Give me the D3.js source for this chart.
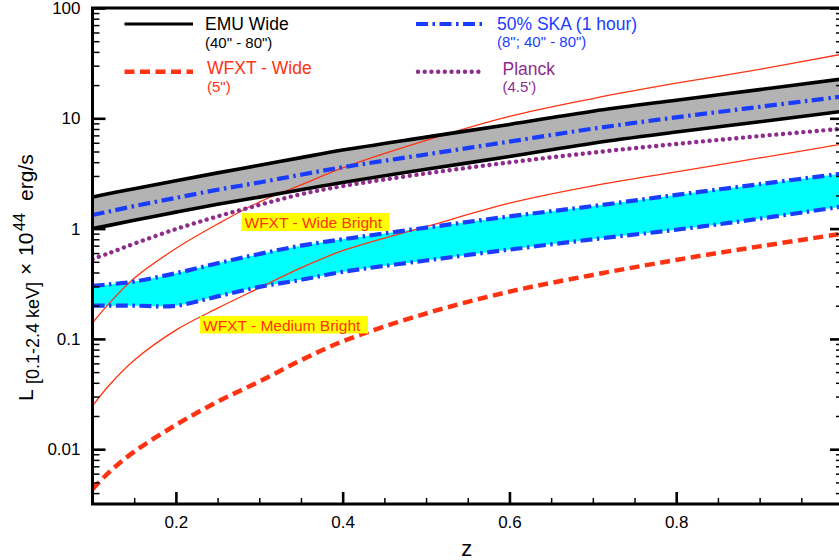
<!DOCTYPE html>
<html><head><meta charset="utf-8">
<script src="https://cdn.jsdelivr.net/npm/d3@7"></script>
<style>
html,body{margin:0;padding:0;background:#fff;}
svg{display:block;font-family:"Liberation Sans",Arial,Helvetica,sans-serif;}
</style></head>
<body>
<svg id="chart" width="839" height="560"></svg>
<script>
// ---------------- data ----------------
const zGrid       = [0.1, 0.12, 0.15, 0.2, 0.25, 0.3, 0.35, 0.4, 0.5, 0.6, 0.7, 0.8, 0.9, 1.0];
const emuUpper    = [1.93, 2.08, 2.3, 2.72, 3.2, 3.75, 4.4, 5.15, 6.75, 8.8, 11.6, 14.6, 18.2, 22.8];
const emuLower    = [1.0, 1.07, 1.19, 1.41, 1.66, 1.93, 2.25, 2.62, 3.45, 4.5, 5.95, 7.5, 9.3, 11.6];
const skaOneHour  = [1.33, 1.43, 1.6, 1.9, 2.25, 2.62, 3.08, 3.6, 4.7, 6.15, 8.05, 10.2, 12.7, 15.8];
const planck      = [0.53, 0.6, 0.73, 0.99, 1.29, 1.64, 2.05, 2.43, 3.16, 3.98, 4.89, 5.85, 6.9, 8.05];
const skaBandUp   = [0.302, 0.312, 0.331, 0.394, 0.485, 0.589, 0.7, 0.8, 1.02, 1.29, 1.6, 2.02, 2.53, 3.16];
const skaBandLow  = [0.2, 0.2, 0.2, 0.2, 0.243, 0.296, 0.343, 0.405, 0.514, 0.645, 0.8, 0.977, 1.23, 1.59];
const wfxtWideBright   = [0.14, 0.21, 0.355, 0.66, 1.1, 1.74, 2.49, 3.55, 6.3, 10.4, 15.1, 20.8, 27.8, 38.3];
const wfxtMediumBright = [0.0247, 0.038, 0.064, 0.12, 0.19, 0.29, 0.44, 0.63, 1.04, 1.70, 2.44, 3.27, 4.37, 5.85];
const wfxtWide    = [0.00434, 0.0062, 0.0095, 0.0166, 0.027, 0.041, 0.064, 0.095, 0.17, 0.268, 0.38, 0.52, 0.69, 0.9];

const xMajorTicks = [0.2, 0.4, 0.6, 0.8, 1.0];
const xTickLabels = ["0.2", "0.4", "0.6", "0.8", ""];
const xMinorTicks = [0.15, 0.25, 0.3, 0.35, 0.45, 0.5, 0.55, 0.65, 0.7, 0.75, 0.85, 0.9, 0.95];
const yMajorTicks = [0.01, 0.1, 1, 10, 100];
const yTickLabels = ["0.01", "0.1", "1", "10", "100"];

const legendItems = [
  {name: "EMU Wide",         sub: "(40\" - 80\")",       key: "emu"},
  {name: "WFXT - Wide",      sub: "(5\")",               key: "wfxt"},
  {name: "50% SKA (1 hour)", sub: "(8\"; 40\" - 80\")",   key: "ska"},
  {name: "Planck",           sub: "(4.5')",              key: "planck"}
];
const annotations = [
  {text: "WFXT - Wide Bright", key: "wb"},
  {text: "WFXT - Medium Bright", key: "mb"}
];

// ---------------- styles ----------------
const RED = "#ff3311", BLUE = "#1a3cff", PURPLE = "#8e2c8e", CYAN = "#00ffff", GRAY = "#b3b3b3";
const styles = {
  emu:    {stroke: "#000", width: 3.6, dash: null, cap: "butt"},
  wfxt:   {stroke: RED, width: 4.5, dash: "10,5.5", cap: "butt"},
  ska:    {stroke: BLUE, width: 4.2, dash: "12,4.5,2.5,4.5", cap: "butt"},
  planck: {stroke: PURPLE, width: 4.4, dash: "0.01,6.7", cap: "round"}
};
const textColor = {emu: "#000", wfxt: RED, ska: BLUE, planck: PURPLE};

// ---------------- layout ----------------
const svg = d3.select("#chart");
const L = 92.5, R = 843, T = 8, B = 504;
const yMin = Math.pow(10, 2 - (B - T) / 110.3);
const x = d3.scaleLinear().domain([0.1, 1.0]).range([L, R]);
const y = d3.scaleLog().domain([yMin, 100]).range([B, T]);
const curve = d3.curveCatmullRom.alpha(0.5);

svg.append("defs").append("clipPath").attr("id", "clip")
  .append("rect").attr("x", L).attr("y", T).attr("width", R - L).attr("height", B - T);

const plot = svg.append("g").attr("clip-path", "url(#clip)");
const pts = arr => zGrid.map((z, i) => [z, arr[i]]);
const line = d3.line().x(d => x(d[0])).y(d => y(d[1])).curve(curve);
const area = (up, lo) => d3.area().x((d, i) => x(zGrid[i])).y0((d, i) => y(lo[i])).y1((d, i) => y(up[i])).curve(curve)(zGrid);

plot.append("path").attr("d", area(emuUpper, emuLower)).attr("fill", GRAY);
plot.append("path").attr("d", area(skaBandUp, skaBandLow)).attr("fill", CYAN);

function drawLine(arr, st) {
  plot.append("path").attr("d", line(pts(arr))).attr("fill", "none")
    .attr("stroke", st.stroke).attr("stroke-width", st.width)
    .attr("stroke-dasharray", st.dash).attr("stroke-linecap", st.cap || "butt");
}
drawLine(wfxtWideBright, {stroke: RED, width: 1.3, dash: null});
drawLine(wfxtMediumBright, {stroke: RED, width: 1.3, dash: null});
drawLine(emuUpper, styles.emu);
drawLine(emuLower, styles.emu);
drawLine(skaOneHour, styles.ska);
drawLine(skaBandUp, styles.ska);
drawLine(skaBandLow, styles.ska);
drawLine(planck, styles.planck);
drawLine(wfxtWide, styles.wfxt);

// ---------------- annotation boxes ----------------
const annPos = {wb: {x: 241.5, y: 213, w: 147.5, h: 18, tx: 244.5, ty: 227.5},
                mb: {x: 200, y: 316, w: 168, h: 17.5, tx: 203, ty: 330.5}};
annotations.forEach(a => {
  const p = annPos[a.key];
  svg.append("rect").attr("x", p.x).attr("y", p.y).attr("width", p.w).attr("height", p.h).attr("fill", "#ffff00");
  svg.append("text").attr("x", p.tx).attr("y", p.ty).attr("fill", RED)
    .attr("font-size", "15.5px").text(a.text);
});

// ---------------- axes ----------------
const axG = svg.append("g");
const styleAxis = (g, w) => { g.select(".domain").remove(); g.selectAll("line").attr("stroke", "#000").attr("stroke-width", w); };

axG.append("g").attr("transform", `translate(${L},0)`)
  .call(d3.axisLeft(y).tickValues(yMajorTicks).tickFormat((d, i) => yTickLabels[i]).tickSize(-13).tickPadding(12))
  .call(g => { styleAxis(g, 2.6); g.selectAll("text").attr("font-size", "17px").attr("fill", "#000").attr("font-family", "Liberation Sans, Arial, sans-serif"); });

const yMinor = [];
[0.001, 0.01, 0.1, 1, 10].forEach(dec => { for (let k = 2; k <= 9; k++) { const v = dec * k; if (v >= yMin && v < 100) yMinor.push(v); } });
axG.append("g").attr("transform", `translate(${L},0)`)
  .call(d3.axisLeft(y).tickValues(yMinor).tickFormat("").tickSize(-7))
  .call(g => styleAxis(g, 1.5));

axG.append("g").attr("transform", `translate(${R},0)`)
  .call(d3.axisRight(y).tickValues(yMajorTicks).tickFormat("").tickSize(-13))
  .call(g => styleAxis(g, 2.6));
axG.append("g").attr("transform", `translate(${R},0)`)
  .call(d3.axisRight(y).tickValues(yMinor).tickFormat("").tickSize(-7))
  .call(g => styleAxis(g, 1.5));

axG.append("g").attr("transform", `translate(0,${B})`)
  .call(d3.axisBottom(x).tickValues(xMajorTicks).tickFormat((d, i) => xTickLabels[i]).tickSize(-12).tickPadding(12))
  .call(g => { styleAxis(g, 2.6); g.selectAll("text").attr("font-size", "17px").attr("fill", "#000").attr("font-family", "Liberation Sans, Arial, sans-serif"); });
axG.append("g").attr("transform", `translate(0,${B})`)
  .call(d3.axisBottom(x).tickValues(xMinorTicks).tickFormat("").tickSize(-6))
  .call(g => styleAxis(g, 1.5));

svg.append("rect").attr("x", L).attr("y", T).attr("width", R - L).attr("height", B - T)
  .attr("fill", "none").attr("stroke", "#000").attr("stroke-width", 3);

// axis titles
svg.append("text").attr("x", (L + R) / 2 - 1).attr("y", 556).attr("text-anchor", "middle")
  .attr("font-size", "22px").attr("fill", "#000").text("z");

const yl = svg.append("text").attr("transform", "translate(33,0) rotate(-90)").attr("fill", "#000").attr("font-size", "21px");
yl.append("tspan").attr("x", -401).attr("y", 0).text("L");
yl.append("tspan").attr("x", -384).attr("y", 6).attr("font-size", "18px").text("[0.1-2.4 keV]");
yl.append("tspan").attr("x", -275).attr("y", 0).text("×");
yl.append("tspan").attr("x", -256).attr("y", 0).text("10");
yl.append("tspan").attr("x", -231).attr("y", -8).attr("font-size", "16px").text("44");
yl.append("tspan").attr("x", -201).attr("y", 0).text("erg/s");

// ---------------- legend ----------------
const legPos = {
  emu:    {x1: 124.5, x2: 193, ly: 24,   tx: 205,   ty: 30,   sy: 47.5},
  wfxt:   {x1: 124.5, x2: 193, ly: 71.7, tx: 207,   ty: 74,   sy: 92},
  ska:    {x1: 416,   x2: 484, ly: 24,   tx: 497,   ty: 30,   sy: 46.5},
  planck: {x1: 418,   x2: 482, ly: 71.7, tx: 502.5, ty: 74.5, sy: 92}
};
legendItems.forEach(it => {
  const p = legPos[it.key], st = styles[it.key];
  svg.append("line").attr("x1", p.x1).attr("x2", p.x2).attr("y1", p.ly).attr("y2", p.ly)
    .attr("stroke", st.stroke).attr("stroke-width", it.key === "emu" ? 3 : st.width)
    .attr("stroke-dasharray", st.dash).attr("stroke-linecap", st.cap);
  svg.append("text").attr("x", p.tx).attr("y", p.ty).attr("font-size", "17.5px").attr("fill", textColor[it.key]).text(it.name);
  svg.append("text").attr("x", p.tx).attr("y", p.sy).attr("font-size", "15px").attr("fill", textColor[it.key]).text(it.sub);
});
</script>
</body></html>
